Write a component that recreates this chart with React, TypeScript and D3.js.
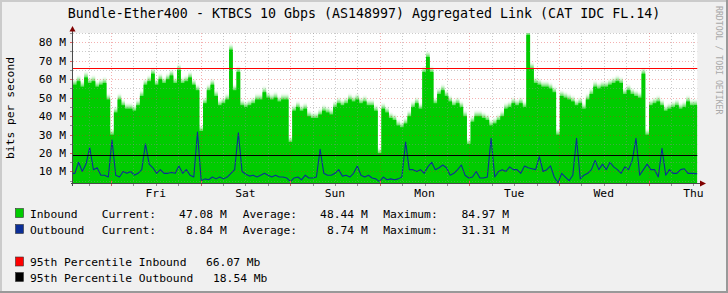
import React from "react";
import * as d3 from "d3";

// ---- data (Mbit/s), one sample per hour from Thu ~14:00 to Thu ~13:00 ----
const inbound: number[] = [
  58, 60, 57, 62, 59, 60, 57, 58, 59, 50,
  31, 43, 50, 47, 45, 45, 44, 47, 52, 58,
  60, 64, 58, 61, 59, 61, 63, 59, 66, 59,
  60, 62, 58, 55, 33, 48, 55, 58, 52, 47,
  48, 50, 77, 55, 65, 47, 46, 47, 48, 50,
  50, 54, 51, 50, 51, 49, 50, 50, 27, 44,
  46, 44, 45, 41, 40, 40, 42, 44, 43, 42,
  46, 48, 47, 48, 50, 49, 50, 48, 49, 47,
  47, 44, 21, 45,
  43, 40, 39, 36, 35, 37, 41, 46, 48, 45,
  65, 73, 65, 48, 53, 55, 52, 49, 47, 48,
  46, 41, 26, 38, 41, 41, 40, 39, 36, 37,
  39, 41, 45, 46, 48, 47, 48, 46, 84.97, 67,
  59, 58, 57, 57, 56, 54, 31, 52, 51, 50,
  49, 47, 48, 45, 50, 53, 57, 56, 57, 57,
  58, 59, 60, 59, 53, 55, 53, 52, 51, 64,
  31, 47, 48, 49, 47, 44, 45, 46, 47, 45,
  46, 49, 47, 47.08,
];

const outbound: number[] = [
  9, 15, 10, 14, 23, 11, 12, 8, 8, 7,
  27, 8, 7, 10, 9, 10, 8, 9, 11, 25,
  14, 12, 9, 11, 9, 9, 9.5, 9, 13, 9,
  11, 8, 7, 31.31, 5, 6, 5.5, 7, 6, 7,
  6, 7, 9, 11, 31, 10, 8.5, 7.5, 8, 7,
  8, 9, 8, 7, 8, 7, 7, 6.5, 4.5, 6.5,
  7, 5.5, 8, 6.5, 6.5, 7, 22, 9, 8, 8,
  9, 11, 7.5, 8, 7, 9, 13, 8, 7, 8,
  6.5, 6, 4.5, 7,
  5.5, 6, 5.5, 6, 7, 26, 11, 11, 10, 11,
  9, 12.5, 15, 11, 12, 13.5, 12, 8, 9, 11,
  13.5, 8, 6.5, 7, 10, 6.5, 6.5, 7, 28, 7,
  10, 11, 10, 12.5, 11, 11, 9, 13, 12, 11.5,
  11, 18, 10, 11, 13, 7, 3.8, 9, 7, 5,
  8, 28, 6, 8, 9, 11, 16, 11, 14, 11,
  15, 12.5, 11, 9, 12.5, 11, 16, 28, 8, 11,
  14, 11, 11, 7, 22.5, 8, 11, 9, 9, 11,
  11.5, 9, 9, 8.84,
];

const dayLabels = ["Fri", "Sat", "Sun", "Mon", "Tue", "Wed", "Thu"];
const yTicks = [10, 20, 30, 40, 50, 60, 70, 80];
const pctInbound = 66.07;
const pctOutbound = 18.54;

const legendRows = [
  { name: "Inbound", color: "#00CC00", current: "47.08 M", average: "48.44 M", maximum: "84.97 M" },
  { name: "Outbound", color: "#0B2E97", current: "8.84 M", average: "8.74 M", maximum: "31.31 M" },
];
const pctRows = [
  { label: "95th Percentile Inbound", value: "66.07 Mb", color: "#FF0000", vx: 206 },
  { label: "95th Percentile Outbound", value: "18.54 Mb", color: "#000000", vx: 213 },
];

// time axis: hours since Thursday 00:00 of the first week
const tStart = 13.83;
const tEnd = 181.05;

const W = 728;
const H = 293;
const X0 = 73;
const X1 = 697.3;
const YB = 183;
const YT = 33;

const FONT = "'DejaVu Sans Mono', monospace";

export default function App() {
  const x = d3.scaleLinear().domain([tStart, tEnd]).range([X0, X1]);
  const y = d3.scaleLinear().domain([3.77, 84.97]).range([YB, YT]);
  const n = inbound.length;
  const dt = (tEnd - tStart) / n;
  const times = d3.range(n + 1).map((i) => tStart + i * dt);

  const inPts: [number, number][] = times.map((t, i) => [t, inbound[Math.min(i, n - 1)]]);
  const outPts: [number, number][] = outbound.map((v, i) => [tStart + (i + 0.5) * dt, v]);
  outPts.unshift([tStart, outbound[0]]);
  outPts.push([tEnd, outbound[n - 1]]);

  const area = d3
    .area<[number, number]>()
    .x((d) => x(d[0]))
    .y0(YB)
    .y1((d) => y(d[1]))
    .curve(d3.curveStepAfter);
  const line = d3
    .line<[number, number]>()
    .x((d) => x(d[0]))
    .y((d) => y(d[1]))
    .curve(d3.curveLinear);

  const crisp = (v: number) => Math.round(v) + 0.5;

  const hGrid = d3.range(5, 86, 5);
  const vGrid = d3.range(18, 181, 6);

  return (
    <svg
      width={W}
      height={H}
      style={{ position: "absolute", left: 0, top: 0, display: "block" }}
      fontFamily={FONT}
    >
      <defs>
        <clipPath id="plot">
          <rect x={X0} y={YT} width={X1 - X0} height={YB - YT} />
        </clipPath>
        <filter id="vblur" x="0" y="-0.2" width="1" height="1.4">
          <feGaussianBlur stdDeviation="0.2 2" />
        </filter>
      </defs>
      <rect x={0} y={0} width={W} height={H} fill="#F0F0F0" />
      {/* frame */}
      <rect x={0} y={0} width={W} height={2} fill="#CBCBCB" />
      <rect x={0} y={0} width={2} height={H} fill="#CBCBCB" />
      <rect x={0} y={H - 2} width={W} height={2} fill="#999999" />
      <rect x={W - 2} y={0} width={2} height={H} fill="#999999" />

      {/* canvas */}
      <rect x={X0} y={YT} width={X1 - X0} height={YB - YT} fill="#FFFFFF" />

      {/* data */}
      <g clipPath="url(#plot)">
        <path d={area(inPts) || ""} fill="#00CC00" filter="url(#vblur)" opacity={0.8} />
        <path d={area(inPts) || ""} fill="#00CC00" transform="translate(0,2)" />
        <path d={line(outPts) || ""} fill="none" stroke="#0B2E97" strokeWidth={1.1} strokeLinejoin="round" />
      </g>

      {/* grid */}
      <g>
        {hGrid.map((v) => (
          <line
            key={"h" + v}
            x1={X0}
            x2={X1}
            y1={crisp(y(v))}
            y2={crisp(y(v))}
            stroke={v % 10 === 0 ? "#E02020" : "#8C8C8C"}
            strokeOpacity={v % 10 === 0 ? 0.35 : 0.45}
            strokeDasharray="1,2"
          />
        ))}
        {vGrid.map((h) => (
          <line
            key={"v" + h}
            x1={crisp(x(h))}
            x2={crisp(x(h))}
            y1={YT}
            y2={YB}
            stroke={h % 24 === 0 ? "#E02020" : "#8C8C8C"}
            strokeOpacity={h % 24 === 0 ? 0.35 : 0.45}
            strokeDasharray="1,2"
          />
        ))}
      </g>

      {/* percentile rules */}
      <line x1={X0} x2={X1} y1={crisp(y(pctInbound))} y2={crisp(y(pctInbound))} stroke="#FF0000" strokeWidth={1} />
      <line x1={X0} x2={X1} y1={crisp(y(pctOutbound)) - 1} y2={crisp(y(pctOutbound)) - 1} stroke="#000000" strokeWidth={1} />

      {/* ticks */}
      {vGrid.map((h) => (
        <line
          key={"t" + h}
          x1={crisp(x(h))}
          x2={crisp(x(h))}
          y1={h % 24 === 0 ? 181 : 183}
          y2={186}
          stroke={h % 24 === 0 ? "#E06060" : "#909090"}
        />
      ))}
      {hGrid.map((v) => (
        <line
          key={"yt" + v}
          x1={70}
          x2={73}
          y1={crisp(y(v))}
          y2={crisp(y(v))}
          stroke={v % 10 === 0 ? "#E06060" : "#909090"}
        />
      ))}

      {/* axes */}
      <line x1={71} x2={701} y1={183.5} y2={183.5} stroke="#4A4A4A" />
      <line x1={72.5} x2={72.5} y1={30} y2={186} stroke="#4A4A4A" />
      <path d="M72.5,26 L69.5,31.5 L75.5,31.5 Z" fill="#800000" />
      <path d="M706,183.5 L700,180.5 L700,186.5 Z" fill="#800000" />

      {/* y labels */}
      {yTicks.map((v) => (
        <text key={"yl" + v} x={66} y={y(v) + 4} fontSize={11.3} textAnchor="end" fill="#000">
          {`${v} M`}
        </text>
      ))}
      {/* x labels at noon */}
      {dayLabels.map((d, i) => (
        <text key={d} x={x(36 + i * 24)} y={197.3} fontSize={11.3} textAnchor="middle" fill="#000">
          {d}
        </text>
      ))}

      <text x={364} y={18} fontSize={13.3} textAnchor="middle" fill="#000">
        Bundle-Ether400 - KTBCS 10 Gbps (AS148997) Aggregated Link (CAT IDC FL.14)
      </text>
      <text transform="translate(14,108) rotate(-90)" fontSize={11.3} textAnchor="middle" fill="#000">
        bits per second
      </text>
      <text transform="translate(716,6) rotate(90)" fontSize={8.2} fill="#A8A8A8">
        RRDTOOL / TOBI OETIKER
      </text>

      {/* legend */}
      {legendRows.map((r, i) => {
        const by = 217.5 + i * 16;
        return (
          <g key={r.name} fontSize={11.3} fill="#000">
            <rect x={15.5} y={by - 9} width={8} height={9} fill={r.color} stroke="#333" strokeWidth={0.6} />
            <text x={30} y={by}>{r.name}</text>
            <text x={101.7} y={by}>Current:</text>
            <text x={226.7} y={by} textAnchor="end">{r.current}</text>
            <text x={242.7} y={by}>Average:</text>
            <text x={367.7} y={by} textAnchor="end">{r.average}</text>
            <text x={383.3} y={by}>Maximum:</text>
            <text x={509} y={by} textAnchor="end">{r.maximum}</text>
          </g>
        );
      })}
      {pctRows.map((r, i) => {
        const by = 266 + i * 15.5;
        return (
          <g key={r.label} fontSize={11.3} fill="#000">
            <rect x={15.5} y={by - 9} width={8} height={9} fill={r.color} stroke="#333" strokeWidth={0.6} />
            <text x={30} y={by}>{r.label}</text>
            <text x={r.vx} y={by}>{r.value}</text>
          </g>
        );
      })}
    </svg>
  );
}
